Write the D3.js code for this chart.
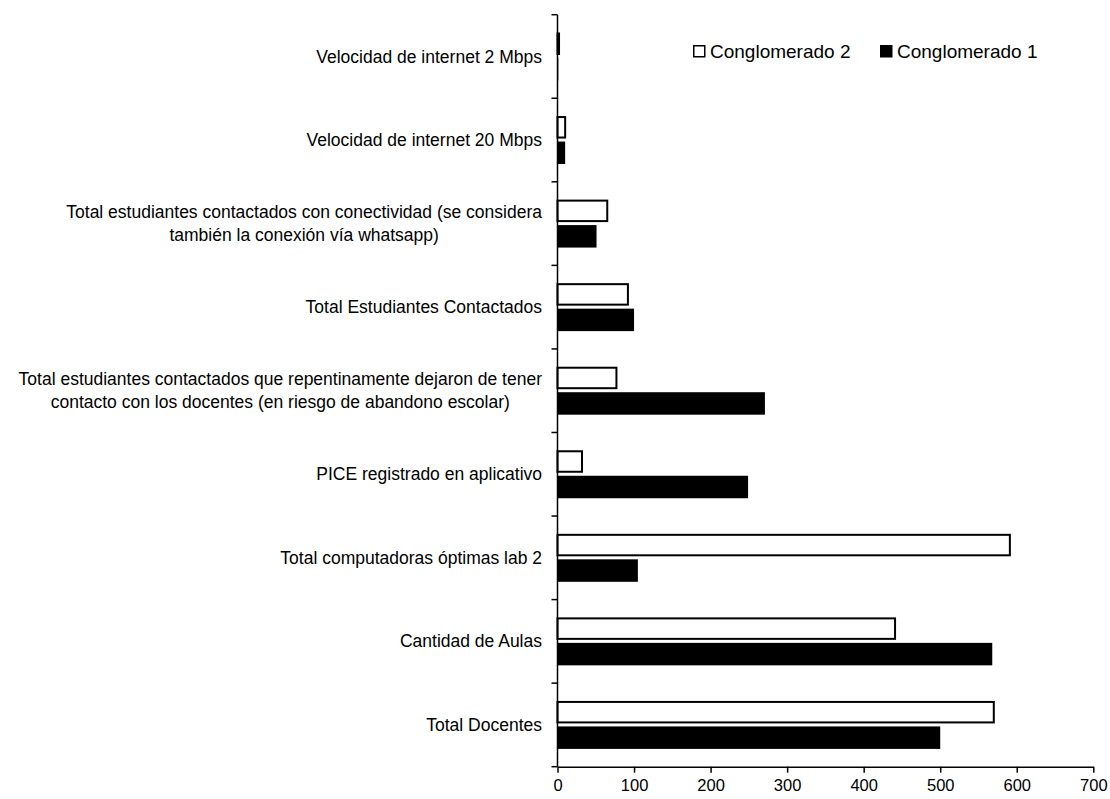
<!DOCTYPE html>
<html>
<head>
<meta charset="utf-8">
<script src="https://cdn.jsdelivr.net/npm/d3@7"></script>
<style>
  html, body { margin: 0; padding: 0; background: #fff; }
  svg { display: block; font-family: "Liberation Sans", Arial, sans-serif; }
</style>
</head>
<body>
<svg id="chart" width="1110" height="799"></svg>
<script>
// Categories, top to bottom ("\n" marks a line break in the label)
const categories = [
  "Velocidad de internet 2 Mbps",
  "Velocidad de internet 20 Mbps",
  "Total estudiantes contactados con conectividad (se considera\ntambién la conexión vía whatsapp)",
  "Total Estudiantes Contactados",
  "Total estudiantes contactados que repentinamente dejaron de tener\ncontacto con los docentes (en riesgo de abandono escolar)",
  "PICE registrado en aplicativo",
  "Total computadoras óptimas lab 2",
  "Cantidad de Aulas",
  "Total Docentes"
];

const seriesNames = ["Conglomerado 2", "Conglomerado 1"];
const conglomerado2 = [2, 10, 65, 92, 77, 32, 591, 441, 570];
const conglomerado1 = [1, 10, 51, 100, 271, 249, 105, 568, 500];
const xTicks = [0, 100, 200, 300, 400, 500, 600, 700];

const seriesValues = [conglomerado2, conglomerado1];
const seriesStyle = [
  { fill: "#fff", stroke: "#000" },
  { fill: "#000", stroke: "none" }
];

const svg = d3.select("#chart");
const plotLeft = 557.5, plotRight = 1093.3, plotTop = 14.7, plotBottom = 766.7;

const x = d3.scaleLinear().domain([0, 700]).range([plotLeft, plotRight]);
const y = d3.scaleBand().domain(categories).range([plotTop, plotBottom]).padding(0);
const bw = y.bandwidth();
const ySub = d3.scaleBand().domain(seriesNames)
  .range([bw * 0.213, bw * 0.787]).paddingInner(0.118).paddingOuter(0);

// bars
seriesNames.forEach((name, si) => {
  const st = seriesStyle[si];
  const outlined = st.stroke !== "none";
  svg.append("g").selectAll("rect")
    .data(categories.map((c, i) => ({ c, v: seriesValues[si][i] })))
    .join("rect")
    .attr("x", x(0))
    .attr("y", d => y(d.c) + ySub(name) + (outlined ? 1 : 0))
    .attr("width", d => Math.max(0, x(d.v) - x(0)))
    .attr("height", ySub.bandwidth() - (outlined ? 2 : 0))
    .attr("fill", st.fill)
    .attr("stroke", st.stroke)
    .attr("stroke-width", 2);
});

// x axis
const xAxis = d3.axisBottom(x).tickValues(xTicks).tickSize(6).tickPadding(7).tickSizeOuter(0);
const gx = svg.append("g").attr("transform", `translate(0,${plotBottom})`).call(xAxis);
gx.select(".domain").attr("stroke", "#000").attr("stroke-width", 1.5);
gx.selectAll(".tick line").attr("stroke", "#000").attr("stroke-width", 1.5);
gx.selectAll(".tick text").attr("fill", "#000").style("font-size", "16.5px")
  .style("font-family", "'Liberation Sans', Arial, sans-serif");

// y axis line with ticks at category boundaries
const boundaries = categories.map(c => y(c)).concat([plotBottom]);
svg.append("line").attr("x1", plotLeft).attr("x2", plotLeft).attr("y1", plotTop).attr("y2", plotBottom)
  .attr("stroke", "#000").attr("stroke-width", 1.5);
svg.append("g").selectAll("line").data(boundaries).join("line")
  .attr("x1", plotLeft - 6).attr("x2", plotLeft).attr("y1", d => d).attr("y2", d => d)
  .attr("stroke", "#000").attr("stroke-width", 1.5);

// category labels: right-aligned block, lines centred within it
const labelRight = 542;
const lineHeight = 23;
categories.forEach(c => {
  const lines = c.split("\n");
  const g = svg.append("g");
  const cy = y(c) + bw / 2;
  const texts = lines.map((ln, i) => g.append("text")
    .attr("y", cy + (i - (lines.length - 1) / 2) * lineHeight)
    .attr("dy", "0.35em")
    .style("font-size", "17.5px")
    .attr("fill", "#000")
    .text(ln));
  const widths = texts.map(t => t.node().getComputedTextLength());
  const maxW = d3.max(widths);
  texts.forEach(t => t.attr("x", labelRight - maxW / 2).attr("text-anchor", "middle"));
});

// legend
const legendPos = [693, 880];
seriesNames.forEach((name, si) => {
  const st = seriesStyle[si];
  const g = svg.append("g").attr("transform", `translate(${legendPos[si]},45)`);
  g.append("rect").attr("x", 0.75).attr("y", 0.75).attr("width", 11).attr("height", 11)
    .attr("fill", st.fill).attr("stroke", "#000").attr("stroke-width", 1.5);
  g.append("text").attr("x", 17).attr("y", 12.5)
    .style("font-size", "19px").attr("fill", "#000").text(name);
});
</script>
</body>
</html>
